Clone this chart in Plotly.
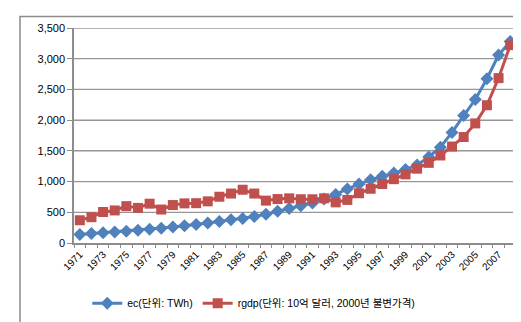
import plotly.graph_objects as go

years = list(range(1971, 2009))
ec = [140, 155, 165, 180, 192, 208, 223, 240, 260, 280,
      300, 325, 350, 380, 400, 430, 470, 515, 560, 605,
      650, 715, 790, 880, 960, 1030, 1085, 1140, 1195, 1270,
      1400, 1560, 1800, 2075, 2335, 2675, 3060, 3280]
rgdp = [370, 420, 505, 530, 600, 571, 640, 545, 618, 645,
        648, 678, 753, 805, 867, 805, 690, 715, 727, 712,
        712, 727, 662, 701, 810, 883, 961, 1039, 1117, 1210,
        1305, 1425, 1570, 1725, 1947, 2243, 2684, 3220]
tick_years = years[::2]
tick_labels = [str(y) for y in tick_years]
y_ticks = [0, 500, 1000, 1500, 2000, 2500, 3000, 3500]

BLUE = "#4F81BD"
RED = "#C0504D"
GRAY = "#8c8c8c"
FONT = "Liberation Sans, Arial, Noto Sans CJK KR, sans-serif"

fig = go.Figure()

# gridlines as a background trace at the y tick values (drawn beneath the data)
gx, gy = [], []
for v in y_ticks[1:]:
    gx += [years[0] - 0.5, years[-1] + 0.5, None]
    gy += [v, v, None]
fig.add_trace(go.Scatter(x=gx, y=gy, mode="lines", line=dict(color="#969696", width=1.3),
                         showlegend=False, hoverinfo="skip"))

fig.add_trace(go.Scatter(
    x=years, y=ec, name="ec(단위: TWh)", mode="lines+markers",
    line=dict(color=BLUE, width=3),
    marker=dict(symbol="diamond", size=10, color=BLUE),
))
fig.add_trace(go.Scatter(
    x=years, y=rgdp, name="rgdp(단위: 10억 달러, 2000년 불변가격)", mode="lines+markers",
    line=dict(color=RED, width=3),
    marker=dict(symbol="square", size=10, color=RED),
))

fig.update_layout(
    template="none",
    width=521, height=322,
    margin=dict(l=66, r=13, t=20, b=77),
    paper_bgcolor="white", plot_bgcolor="rgba(0,0,0,0)",
    font=dict(family=FONT, size=11, color="#000"),
    showlegend=True,
    legend=dict(orientation="h", x=0.03, y=-0.28, xanchor="left", yanchor="middle",
                font=dict(size=10.5), itemwidth=30, traceorder="normal",
                bgcolor="rgba(0,0,0,0)"),
    xaxis=dict(
        range=[1970.5, 2008.5], tickmode="array", tickvals=tick_years, ticktext=tick_labels,
        tickangle=-45, tickfont=dict(size=10), ticks="", showgrid=False,
        showline=True, linecolor=GRAY, linewidth=1.5, zeroline=False,
    ),
    xaxis2=dict(
        overlaying="x", anchor="y", side="bottom", matches="x",
        tickmode="linear", tick0=1970.5, dtick=1, ticks="outside", ticklen=4,
        tickcolor=GRAY, tickwidth=1, showticklabels=False, showgrid=False,
        showline=False, zeroline=False,
    ),
    yaxis=dict(
        range=[0, 3500], tickmode="array", tickvals=y_ticks, tickformat=",",
        ticks="outside", ticklen=5, tickcolor=GRAY, tickwidth=1,
        showgrid=True, gridcolor="#969696", gridwidth=1.3,
        showline=True, linecolor=GRAY, linewidth=1.5, zeroline=False,
        tickfont=dict(size=11),
    ),
    shapes=[dict(type="rect", xref="paper", yref="paper",
                 x0=-0.1222, x1=1.2, y0=-0.5, y1=1.0533,
                 line=dict(color=GRAY, width=1.5), fillcolor="rgba(0,0,0,0)",
                 layer="above")],
)

fig.add_trace(go.Scatter(x=[years[0]], y=[None], xaxis="x2", showlegend=False,
                         hoverinfo="skip", mode="markers"))

fig.write_html("out.html")
